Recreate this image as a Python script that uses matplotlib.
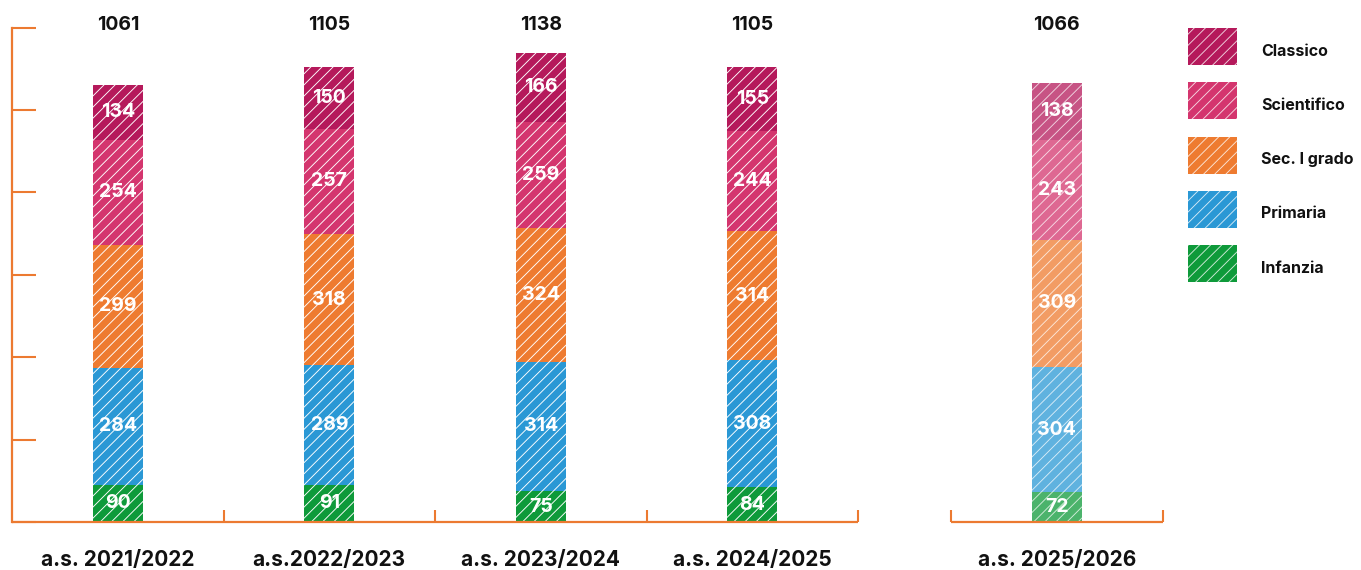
import matplotlib
matplotlib.use("Agg")
import matplotlib.pyplot as plt
from matplotlib.patches import Rectangle

years = ["a.s. 2021/2022", "a.s.2022/2023", "a.s. 2023/2024", "a.s. 2024/2025", "a.s. 2025/2026"]
series_names = ["Infanzia", "Primaria", "Sec. I grado", "Scientifico", "Classico"]
infanzia = [90, 91, 75, 84, 72]
primaria = [284, 289, 314, 308, 304]
sec_grado = [299, 318, 324, 314, 309]
scientifico = [254, 257, 259, 244, 243]
classico = [134, 150, 166, 155, 138]
totals = [1061, 1105, 1138, 1105, 1066]

colors = ["#0E9A3A", "#2A98D5", "#EE7B30", "#D4356E", "#B5195B"]
orange = "#EC7A31"
FONT = "Inter"
HATCH_EC = (1, 1, 1, 0.8)

plt.rcParams["hatch.linewidth"] = 0.65
W, H = 1361, 570
fig = plt.figure(figsize=(W / 100, H / 100), dpi=100)

px = 211.5  # pixels per category band
x0_px, y0_px, ytop_px = 12, 522, 27.6
xmax = (1163 - x0_px) / px
ax = fig.add_axes([x0_px / W, (H - y0_px) / H, (1163 - x0_px) / W, (y0_px - ytop_px) / H])
ax.set_xlim(0, xmax)
ax.set_ylim(0, 1200)

positions = [0.5, 1.5, 2.5, 3.5, (951 - x0_px) / px + 0.5]
bar_w = 50 / px

stack = [infanzia, primaria, sec_grado, scientifico, classico]
bottoms = [0] * len(years)
for vals, col, name in zip(stack, colors, series_names):
    for i, (x, v) in enumerate(zip(positions, vals)):
        alpha = 0.75 if i == len(years) - 1 else 1.0
        ax.bar(x, v, bar_w, bottom=bottoms[i], color=col, alpha=alpha,
               edgecolor=HATCH_EC, linewidth=0, hatch="///", zorder=2)
        ax.text(x, bottoms[i] + v / 2, str(v), ha="center", va="center",
                color="white", fontsize=14, fontweight="bold", family=FONT, zorder=3)
    bottoms = [b + v for b, v in zip(bottoms, vals)]

for x, t in zip(positions, totals):
    ax.text(x, 1207, str(t), ha="center", va="center", color="#111111",
            fontsize=14, fontweight="bold", family=FONT, clip_on=False)

# axes styling
for s in ["top", "right", "bottom"]:
    ax.spines[s].set_visible(False)
ax.spines["left"].set_color(orange)
ax.spines["left"].set_linewidth(1.6)
ax.set_yticks(range(0, 1201, 200))
ax.tick_params(axis="y", direction="in", length=17.5, width=1.5, color=orange, labelleft=False)
ax.set_xticks(positions)
ax.set_xticklabels(years, fontsize=15, fontweight="bold", family=FONT, color="#111111")
ax.tick_params(axis="x", length=0, pad=20)

# bottom axis segments
tick_h = 30
ax.plot([0, 4], [0, 0], color=orange, lw=1.6, clip_on=False, solid_capstyle="butt", zorder=4)
ax.vlines([1, 2, 3, 4], 0, tick_h, color=orange, lw=1.5, zorder=4)
x5a = (951 - x0_px) / px
ax.plot([x5a, xmax], [0, 0], color=orange, lw=1.6, clip_on=False, solid_capstyle="butt", zorder=4)
ax.vlines([x5a, xmax], 0, tick_h, color=orange, lw=1.5, clip_on=False, zorder=4)

# legend
legend_order = ["Classico", "Scientifico", "Sec. I grado", "Primaria", "Infanzia"]
legend_colors = ["#B5195B", "#D4356E", "#EE7B30", "#2A98D5", "#0E9A3A"]
for k, (name, col) in enumerate(zip(legend_order, legend_colors)):
    top = 28 + k * 54.3
    r = Rectangle((1188 / W, (H - top - 37) / H), 49 / W, 37 / H, transform=fig.transFigure,
                  facecolor=col, edgecolor=HATCH_EC, linewidth=0, hatch="///")
    fig.patches.append(r)
    fig.text(1261 / W, (H - top - 23) / H, name, ha="left", va="center",
             fontsize=11.5, fontweight="bold", family=FONT, color="#111111")

fig.savefig("out.png", dpi=100)
